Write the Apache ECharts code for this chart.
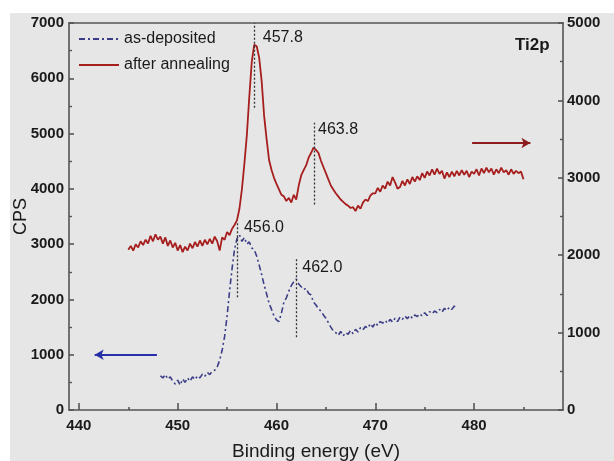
<!DOCTYPE html>
<html>
<head>
<meta charset="utf-8">
<script src="https://cdn.jsdelivr.net/npm/echarts@6/dist/echarts.min.js"></script>
<style>
  html, body { margin: 0; padding: 0; background: #ffffff; }
  #bg { position: absolute; left: 10px; top: 13px; width: 604px; height: 448px; background: #e6e6e6; }
  #chart { position: absolute; left: 0; top: 0; width: 614px; height: 461px; }
</style>
</head>
<body>
<div id="bg"></div>
<div id="chart"></div>
<script>
// ---- data ----
const seriesNames = ['as-deposited', 'after annealing'];
const xMajorTicks = [440, 450, 460, 470, 480];
const xMinorTicks = [445, 455, 465, 475, 485];
const leftTicks = [0, 1000, 2000, 3000, 4000, 5000, 6000, 7000];
const rightTicks = [0, 1000, 2000, 3000, 4000, 5000];

// as-deposited (left axis, CPS), energies from 448.25 eV in 0.25 eV steps
const depositedStart = 448.25;
const depositedStep = 0.25;
const depositedValues = [
  620, 580, 640,
  560, 600, 520, 470,
  540, 450, 560, 500,
  580, 520, 600, 550,
  620, 580, 650, 610,
  680, 640, 700, 720,
  780, 900, 1080, 1330,
  1700, 2150, 2550, 2900,
  3100, 3170, 3050, 3120,
  3000, 3040, 2930, 2900,
  2780, 2620, 2450, 2260,
  2100, 1930, 1820, 1700,
  1630, 1600, 1750, 1950,
  2030, 2150, 2250, 2320,
  2370, 2280, 2230, 2180,
  2200, 2110, 2080, 1950,
  1900, 1830, 1790, 1720,
  1660, 1580, 1500, 1430,
  1400, 1350, 1420, 1340,
  1400, 1370, 1440, 1380,
  1460, 1410, 1490, 1450,
  1510, 1480, 1560, 1500,
  1580, 1530, 1600, 1570,
  1620, 1570, 1640, 1590,
  1660, 1600, 1680, 1640,
  1700, 1650, 1710, 1660,
  1720, 1690, 1740, 1700,
  1760, 1710, 1780, 1740,
  1790, 1760, 1820, 1770,
  1840, 1800, 1860, 1820,
  1880, 1850
];

// after annealing (right axis), energies from 445 eV in 0.25 eV steps
const annealedStart = 445;
const annealedStep = 0.25;
const annealedValues = [
  2070, 2120, 2060, 2140,
  2100, 2180, 2130, 2200,
  2150, 2250, 2180, 2270,
  2200, 2240, 2150, 2230,
  2120, 2190, 2100, 2160,
  2060, 2130, 2040, 2110,
  2060, 2150, 2090, 2170,
  2110, 2190, 2120, 2200,
  2140, 2210, 2150, 2240,
  2180, 2060, 2230, 2200,
  2300, 2260, 2340, 2390,
  2450, 2600, 2850, 3180,
  3550, 4050, 4500, 4720,
  4700, 4550, 4250, 3800,
  3500, 3230, 3100, 3000,
  2920, 2850, 2780, 2760,
  2700, 2740, 2680, 2780,
  2720, 2900, 3030, 3100,
  3160, 3260, 3320, 3390,
  3360, 3320, 3220, 3140,
  3060, 2980, 2900, 2850,
  2800, 2760, 2720, 2690,
  2660, 2640, 2610, 2620,
  2570, 2640, 2600, 2680,
  2720, 2700, 2770, 2800,
  2800, 2870, 2820, 2900,
  2860, 2950, 2900, 3010,
  2940, 2860, 2880, 2960,
  2900, 2980, 2920, 3010,
  2950, 3020, 2970, 3060,
  3000, 3080, 3030, 3110,
  3040, 3120, 3050, 3090,
  2990, 3070, 3010, 3080,
  3020, 3090, 3030, 3100,
  3040, 3090, 3010, 3080,
  3050, 3110, 3030, 3120,
  3060, 3130, 3070, 3120,
  3040, 3110, 3060, 3130,
  3070, 3100, 3040, 3110,
  3050, 3090, 3060, 3080,
  2980
];

// peak annotations: position, dotted-line span (axis units), label height (axis units)
const depositedPeaks = [456.0, 462.0];
const depositedPeakLineFrom = [2039, 1317];
const depositedPeakLineTo = [3410, 2760];
const depositedPeakLabelY = [3300, 2570];

const annealedPeaks = [457.8, 463.8];
const annealedPeakLineFrom = [3905, 2655];
const annealedPeakLineTo = [5000, 3711];
const annealedPeakLabelY = [4807, 3621];

// axis-indicating arrows: [xFrom, xTo], y
const depositedArrowX = [447.9, 441.6];
const depositedArrowY = 1000;
const annealedArrowX = [479.8, 485.7];
const annealedArrowY = 3450;

// ---- build ----
const toPairs = (start, step, vals) => vals.map((v, i) => [+(start + i * step).toFixed(2), v]);
const depositedData = toPairs(depositedStart, depositedStep, depositedValues);
const annealedData = toPairs(annealedStart, annealedStep, annealedValues);

const FONT = 'Liberation Sans, Arial, sans-serif';
const AX = '#555555';
const TXT = '#1a1a1a';
const plain = v => String(v);

function peakLines(peaks, from, to) {
  return peaks.map((p, i) => [{ coord: [p, from[i]] }, { coord: [p, to[i]] }]);
}
function peakLabels(peaks, ys, dist) {
  return peaks.map((p, i) => ({
    coord: [p, ys[i]],
    symbol: 'circle', symbolSize: 0.01,
    itemStyle: { color: 'rgba(0,0,0,0)' },
    label: { show: true, position: 'right', distance: dist[i], formatter: p.toFixed(1),
             color: TXT, fontSize: 16, fontFamily: FONT }
  }));
}

const chart = echarts.init(document.getElementById('chart'), null, { renderer: 'canvas' });
chart.setOption({
  backgroundColor: 'transparent',
  animation: false,
  textStyle: { fontFamily: FONT },
  title: {
    text: 'Ti2p', left: 510, top: 32,
    textStyle: { fontSize: 17, fontWeight: 'bold', color: TXT, fontFamily: FONT }
  },
  legend: {
    data: seriesNames,
    orient: 'vertical', left: 73, top: 26,
    itemWidth: 40, itemHeight: 14, itemGap: 10,
    itemStyle: { opacity: 0 },
    textStyle: { fontSize: 16, color: TXT, fontFamily: FONT }
  },
  grid: { left: 69, right: 51, top: 23, bottom: 51, containLabel: false, outerBoundsMode: 'none' },
  xAxis: [
    {
      type: 'value', min: 439, max: 489, position: 'bottom',
      name: 'Binding energy (eV)', nameLocation: 'middle', nameGap: 32,
      nameTextStyle: { fontSize: 19, color: TXT, fontFamily: FONT },
      axisLine: { show: true, onZero: false, lineStyle: { color: AX, width: 1.6 } },
      axisTick: { show: true, inside: true, length: 7, customValues: xMajorTicks, lineStyle: { color: AX, width: 1.6 } },
      axisLabel: { show: true, customValues: xMajorTicks, formatter: plain, margin: 8, color: TXT, fontSize: 15, fontWeight: 'bold', fontFamily: FONT },
      splitLine: { show: false }
    },
    {
      type: 'value', min: 439, max: 489, position: 'bottom',
      axisLine: { show: false, onZero: false },
      axisTick: { show: true, inside: true, length: 3, customValues: xMinorTicks, lineStyle: { color: AX, width: 1.6 } },
      axisLabel: { show: false },
      splitLine: { show: false }
    },
    {
      type: 'value', min: 439, max: 489, position: 'top',
      axisLine: { show: true, onZero: false, lineStyle: { color: AX, width: 1.6 } },
      axisTick: { show: false }, axisLabel: { show: false }, splitLine: { show: false }
    }
  ],
  yAxis: [
    {
      type: 'value', min: leftTicks[0], max: leftTicks[leftTicks.length - 1], interval: 1000, position: 'left',
      name: 'CPS', nameLocation: 'middle', nameGap: 39, nameMoveOverlap: false,
      nameTextStyle: { fontSize: 18, color: TXT, fontFamily: FONT },
      axisLine: { show: true, onZero: false, lineStyle: { color: AX, width: 1.6 } },
      axisTick: { show: true, inside: true, length: 5, lineStyle: { color: AX, width: 1.6 } },
      minorTick: { show: true, splitNumber: 2, length: 3, lineStyle: { color: AX, width: 1.4 } },
      axisLabel: { formatter: plain, margin: 5, color: TXT, fontSize: 15, fontWeight: 'bold', fontFamily: FONT },
      splitLine: { show: false }
    },
    {
      type: 'value', min: rightTicks[0], max: rightTicks[rightTicks.length - 1], interval: 1000, position: 'right',
      axisLine: { show: true, onZero: false, lineStyle: { color: AX, width: 1.6 } },
      axisTick: { show: true, inside: true, length: 5, lineStyle: { color: AX, width: 1.6 } },
      minorTick: { show: true, splitNumber: 2, length: 3, lineStyle: { color: AX, width: 1.4 } },
      axisLabel: { formatter: plain, margin: 4, color: TXT, fontSize: 15, fontWeight: 'bold', fontFamily: FONT },
      splitLine: { show: false }
    }
  ],
  series: [
    {
      name: seriesNames[0], type: 'line', xAxisIndex: 0, yAxisIndex: 0,
      data: depositedData, symbol: 'none', showSymbol: false, smooth: false,
      lineStyle: { color: '#3b3e86', width: 1.6, type: [6, 3, 2, 3] },
      itemStyle: { color: '#3b3e86' },
      z: 3,
      markLine: {
        silent: true, symbol: ['none', 'none'], animation: false,
        label: { show: false },
        lineStyle: { color: '#333', width: 1.3, type: [2, 2] },
        data: peakLines(depositedPeaks, depositedPeakLineFrom, depositedPeakLineTo).concat([
          [
            { coord: [depositedArrowX[0], depositedArrowY], symbol: 'none', lineStyle: { color: '#2530a8', width: 2, type: 'solid' } },
            { coord: [depositedArrowX[1], depositedArrowY], symbol: 'arrow', symbolSize: [8, 9] }
          ]
        ])
      },
      markPoint: { silent: true, animation: false, data: peakLabels(depositedPeaks, depositedPeakLabelY, [7, 6]) }
    },
    {
      name: seriesNames[1], type: 'line', xAxisIndex: 0, yAxisIndex: 1,
      data: annealedData, symbol: 'none', showSymbol: false, smooth: false,
      lineStyle: { color: '#a61e1e', width: 1.8 },
      itemStyle: { color: '#a61e1e' },
      z: 4,
      markLine: {
        silent: true, symbol: ['none', 'none'], animation: false,
        label: { show: false },
        lineStyle: { color: '#333', width: 1.3, type: [2, 2] },
        data: peakLines(annealedPeaks, annealedPeakLineFrom, annealedPeakLineTo).concat([
          [
            { coord: [annealedArrowX[0], annealedArrowY], symbol: 'none', lineStyle: { color: '#8e1c1c', width: 2, type: 'solid' } },
            { coord: [annealedArrowX[1], annealedArrowY], symbol: 'arrow', symbolSize: [8, 9] }
          ]
        ])
      },
      markPoint: { silent: true, animation: false, data: peakLabels(annealedPeaks, annealedPeakLabelY, [8, 4]) }
    }
  ]
});
</script>
</body>
</html>
